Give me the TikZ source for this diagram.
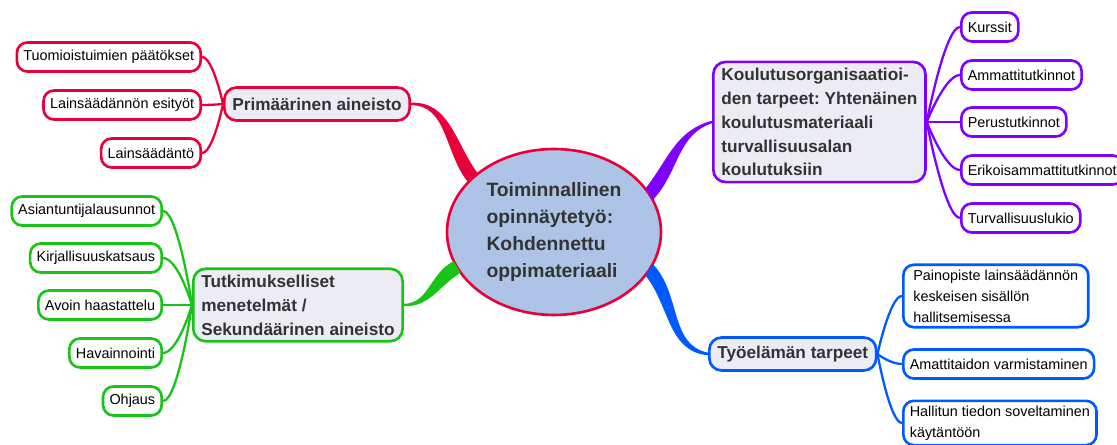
\documentclass[tikz,border=0pt]{standalone}
\usepackage{fontspec}
\setmainfont{Liberation Sans}
\usepackage{xcolor}
\usetikzlibrary{shapes.geometric}
\frenchspacing

\definecolor{mmred}{RGB}{232,0,58}
\definecolor{mmgreen}{RGB}{24,196,24}
\definecolor{mmpurple}{RGB}{128,0,255}
\definecolor{mmblue}{RGB}{0,90,255}
\definecolor{mmfill}{RGB}{236,236,245}
\definecolor{mmcore}{RGB}{174,196,230}
\definecolor{mmtext}{RGB}{51,51,51}

\begin{document}
\begin{tikzpicture}[
  x=0.02cm, y=-0.02cm,
  leaf/.style={draw, line width=1.5pt, rounded corners=6pt, fill=white,
    font=\fontsize{8.2}{11.9}\selectfont, inner xsep=0.13cm, inner ysep=0.1cm,
    minimum height=0.58cm, align=left},
  branch/.style={draw, line width=1.5pt, rounded corners=7pt, fill=mmfill,
    text=mmtext, font=\fontsize{9.8}{13.6}\selectfont\bfseries,
    inner xsep=0.16cm, inner ysep=0.12cm, minimum height=0.66cm, align=left},
  twig/.style={line width=1.3pt},
  trunk/.style={line width=1.4pt}
  ]
  \useasboundingbox (0,0) rectangle (1117,445);

  \node[ellipse, draw=mmred, line width=1.5pt, fill=mmcore, text=mmtext,
    minimum width=4.28cm, minimum height=3.32cm, align=left,
    font=\fontsize{11}{15.3}\selectfont\bfseries] (core) at (554,232)
    {Toiminnallinen\\opinnäytetyö:\\Kohdennettu\\oppimateriaali};

  % primary
  \node[branch, draw=mmred, anchor=west] (prim) at (223,104) {Primäärinen aineisto};
  \node[leaf, draw=mmred, anchor=east] (tuom) at (202,57) {Tuomioistuimien päätökset};
  \node[leaf, draw=mmred, anchor=east] (esit) at (202,105) {Lainsäädännön esityöt};
  \node[leaf, draw=mmred, anchor=east] (lain) at (202,153) {Lainsäädäntö};

  \filldraw[mmred, trunk] (prim.east) to[out=0,in=128] (core.149)
    -- (core.143) to[out=126,in=3] (prim.east);
  \foreach \n in {tuom,esit,lain}
    \draw[mmred, twig] (\n.east) .. controls +(11,0) and +(0,0) .. (prim.west);

  % secondary
  \node[branch, draw=mmgreen, anchor=west] (tutk) at (192,305)
    {Tutkimukselliset\\menetelmät /\\Sekundäärinen aineisto};
  \node[leaf, draw=mmgreen, anchor=east] (asia) at (163,211) {Asiantuntijalausunnot};
  \node[leaf, draw=mmgreen, anchor=east] (kirj) at (163,258) {Kirjallisuuskatsaus};
  \node[leaf, draw=mmgreen, anchor=east] (avoi) at (163,305) {Avoin haastattelu};
  \node[leaf, draw=mmgreen, anchor=east] (hava) at (163,353) {Havainnointi};
  \node[leaf, draw=mmgreen, anchor=east] (ohja) at (163,401) {Ohjaus};

  \filldraw[mmgreen, trunk] (tutk.east) to[out=0,in=208] (core.197)
    -- (core.203) to[out=212,in=-2] (tutk.east);
  \foreach \n in {asia,kirj,avoi,hava,ohja}
    \draw[mmgreen, twig] (\n.east) .. controls +(15,0) and +(0,0) .. (tutk.west);

  % training organisations
  \node[branch, draw=mmpurple, anchor=west] (koul) at (712,122)
    {Koulutusorganisaatioi-\\den tarpeet: Yhtenäinen\\koulutusmateriaali\\turvallisuusalan\\koulutuksiin};
  \node[leaf, draw=mmpurple, anchor=west] (kurs) at (960,27) {Kurssit};
  \node[leaf, draw=mmpurple, anchor=west] (amma) at (960,75) {Ammattitutkinnot};
  \node[leaf, draw=mmpurple, anchor=west] (peru) at (960,122) {Perustutkinnot};
  \node[leaf, draw=mmpurple, anchor=west] (erik) at (960,170) {Erikoisammattitutkinnot};
  \node[leaf, draw=mmpurple, anchor=west] (turv) at (960,218) {Turvallisuuslukio};

  \filldraw[mmpurple, trunk] (koul.west) to[out=195,in=52] (core.25)
    -- (core.19) to[out=48,in=198] (koul.west);
  \foreach \n in {kurs,amma,peru,erik,turv}
    \draw[mmpurple, twig] (\n.west) .. controls +(-15,0) and +(0,0) .. (koul.east);

  % working life
  \node[branch, draw=mmblue, anchor=west] (tyoe) at (708,354) {Työelämän tarpeet};
  \node[leaf, draw=mmblue, anchor=west, minimum width=3.7cm] (pain) at (902,296)
    {Painopiste lainsäädännön\\keskeisen sisällön\\hallitsemisessa};
  \node[leaf, draw=mmblue, anchor=west] (amat) at (902,364) {Amattitaidon varmistaminen};
  \node[leaf, draw=mmblue, anchor=west] (hall) at (902,423)
    {Hallitun tiedon soveltaminen\\käytäntöön};

  \filldraw[mmblue, trunk] (tyoe.west) to[out=175,in=-52] (core.335)
    -- (core.341) to[out=-48,in=168] (tyoe.west);
  \foreach \n in {pain,amat,hall}
    \draw[mmblue, twig] (\n.west) .. controls +(-12,0) and +(0,0) .. (tyoe.east);

\end{tikzpicture}
\end{document}
